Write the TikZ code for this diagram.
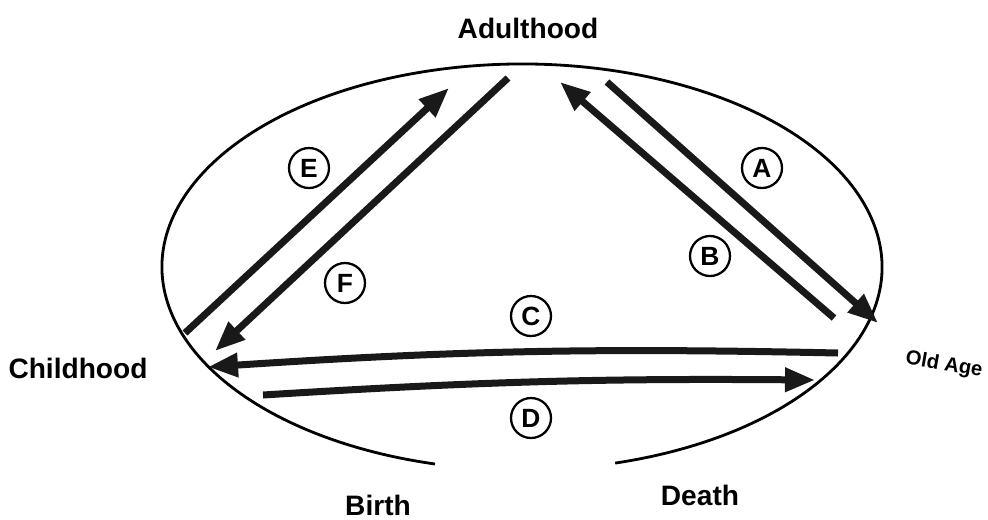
\documentclass[tikz,border=0pt]{standalone}
\usepackage{fontspec}
\setmainfont{Liberation Sans}
\usetikzlibrary{arrows.meta, positioning}

\begin{document}
\begin{tikzpicture}[>={Triangle[length=0.6cm, width=0.46cm]},
    stage/.style={font=\fontsize{16}{18}\selectfont\bfseries},
    tag/.style={draw, circle, line width=1.3pt, minimum size=0.8cm, inner sep=0pt, font=\fontsize{15}{15}\selectfont\bfseries},
    flow/.style={->, line width=0.14cm, draw=black!90}]
    \useasboundingbox (0,0) rectangle (19.76,-10.38);

    % Life ring (open at the bottom)
    \coordinate (ring) at (10.44,-5.34);
    \draw [line width=1.6pt] ([shift={(-75:7.2cm and 4.06cm)}]ring)
        arc [start angle=-75, end angle=256, x radius=7.2cm, y radius=4.06cm];

    % Stages
    \node [stage] (adult) at (10.56,-0.56) {Adulthood};
    \node [stage] (child) at (1.56,-7.36) {Childhood};
    \node [stage, font=\fontsize{11.5}{12}\selectfont\bfseries, rotate=-10, inner sep=1pt] (old) at (18.88,-7.30) {Old Age};
    \node [stage] (birth) at (7.56,-10.10) {Birth};
    \node [stage] (death) at (14.0,-9.90) {Death};

    % Arrow ends
    \coordinate (e0) at (3.70,-6.66);  \coordinate (e1) at (8.98,-1.76);
    \coordinate (f0) at (10.16,-1.56); \coordinate (f1) at (4.30,-7.02);
    \coordinate (b0) at (16.68,-6.36); \coordinate (b1) at (11.20,-1.64);
    \coordinate (a0) at (12.14,-1.64); \coordinate (a1) at (17.56,-6.46);
    \coordinate (c0) at (16.76,-7.06); \coordinate (c1) at (4.16,-7.34);
    \coordinate (d0) at (5.26,-7.90);  \coordinate (d1) at (16.30,-7.60);

    % Transitions
    \draw [flow] (e0) -- (e1);
    \draw [flow] (f0) -- (f1);
    \draw [flow] (b0) -- (b1);
    \draw [flow] (a0) -- (a1);
    \draw [flow] (c0) to [bend right=2.5] (c1);
    \draw [flow] (d0) to [bend left=2] (d1);

    % Letters
    \node [tag] (ta) at (15.24,-3.36) {A};
    \node [tag] (tb) at (14.20,-5.12) {B};
    \node [tag] (tc) at (10.62,-6.32) {C};
    \node [tag] (td) at (10.62,-8.36) {D};
    \node [tag] (te) at (6.18,-3.36) {E};
    \node [tag] (tf) at (6.90,-5.66) {F};
\end{tikzpicture}
\end{document}
